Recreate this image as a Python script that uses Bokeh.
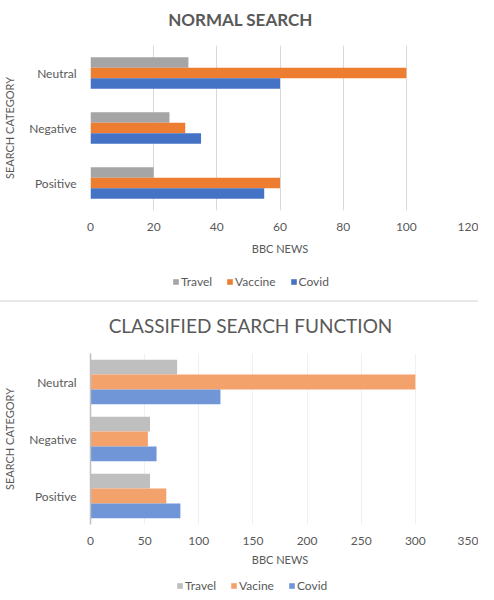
from bokeh.plotting import figure
from bokeh.models import FactorRange, Range1d, Legend, LegendItem, FixedTicker, Label
from bokeh.transform import dodge
from bokeh.layouts import column
from bokeh.embed import file_html
from bokeh.resources import INLINE

categories = ["Positive", "Negative", "Neutral"]
series_top = ["Travel", "Vaccine", "Covid"]
series_bottom = ["Travel", "Vacine", "Covid"]
normal_travel = [20, 25, 31]
normal_vaccine = [60, 30, 100]
normal_covid = [55, 35, 60]
classified_travel = [55, 55, 80]
classified_vacine = [70, 53, 300]
classified_covid = [83, 61, 120]
normal_ticks = [0, 20, 40, 60, 80, 100, 120]
classified_ticks = [0, 50, 100, 150, 200, 250, 300, 350]
colors_top = ["#A5A5A5", "#ED7D31", "#4472C4"]
colors_bottom = ["#BFBFBF", "#F4A26C", "#7196D8"]

FONT = "Lato"
TXT = "#595959"
W = 478


def blank(height):
    p = figure(width=W, height=height, output_backend="svg", toolbar_location=None,
               x_range=Range1d(0, 1), y_range=Range1d(0, 1),
               x_axis_type=None, y_axis_type=None,
               min_border=0, min_border_left=0, min_border_right=0,
               min_border_top=0, min_border_bottom=0)
    p.outline_line_color = None
    p.xgrid.visible = False
    p.ygrid.visible = False
    return p


def title_fig(text, height, cx, cy, size, style):
    p = blank(height)
    p.add_layout(Label(x=cx, y=cy, x_units="screen", y_units="screen", text=text,
                       text_align="center", text_baseline="middle",
                       text_font=FONT, text_font_size=size,
                       text_font_style=style, text_color=TXT))
    return p


def legend_fig(height, series, colors, lx, ly):
    p = blank(height)
    items = []
    for name, col in zip(series, colors):
        # legend-only renderer, kept outside the visible range
        r = p.hbar(y=[-10], right=[-10], left=-20, height=0.1, color=col,
                   line_color=None)
        items.append(LegendItem(label=name, renderers=[r]))
    legend = Legend(items=items, orientation="horizontal", location=(lx, ly),
                    glyph_width=7, glyph_height=7, label_standoff=2, spacing=14,
                    padding=0, margin=0, label_height=14,
                    border_line_color=None, background_fill_alpha=0,
                    label_text_font=FONT, label_text_font_size="12px",
                    label_text_color=TXT)
    p.add_layout(legend, "center")
    return p


def chart(series, values, colors, ticks, xmax, top, frame_h, bottom, left, right,
          bh, grid_color, axis_line, lab_standoff, title_gap):
    p = figure(width=W, height=top + frame_h + bottom, output_backend="svg",
               toolbar_location=None,
               y_range=FactorRange(factors=categories, range_padding=0),
               x_range=Range1d(0, xmax))
    p.min_border_top = top
    p.min_border_left = left
    p.min_border_right = right
    p.min_border_bottom = bottom
    p.outline_line_color = None
    p.ygrid.grid_line_color = None
    p.xgrid.grid_line_color = grid_color
    p.xaxis.ticker = FixedTicker(ticks=ticks)
    p.xaxis.axis_line_color = None
    p.xaxis.major_tick_line_color = None
    p.xaxis.minor_tick_line_color = None
    p.xaxis.major_label_standoff = lab_standoff
    p.xaxis.axis_label = "BBC NEWS"
    p.xaxis.axis_label_standoff = title_gap
    p.yaxis.axis_label = "SEARCH CATEGORY"
    p.yaxis.axis_label_standoff = 10
    p.yaxis.major_tick_line_color = None
    p.yaxis.minor_tick_line_color = None
    p.yaxis.major_label_standoff = 8
    if axis_line:
        p.yaxis.axis_line_color = axis_line
        p.yaxis.axis_line_width = 1.5
    else:
        p.yaxis.axis_line_color = None
    for ax in (p.xaxis, p.yaxis):
        ax.major_label_text_font = FONT
        ax.major_label_text_font_size = "12px"
        ax.major_label_text_color = TXT
        ax.axis_label_text_font = FONT
        ax.axis_label_text_font_size = "11px"
        ax.axis_label_text_font_style = "normal"
        ax.axis_label_text_color = TXT
    offsets = [bh, 0, -bh]
    for vals, col, off in zip(values, colors, offsets):
        p.hbar(y=dodge("cat", off, range=p.y_range), right="val", left=0,
               height=bh, color=col, line_color=None,
               source=dict(cat=categories, val=vals))
    return p


# frames of all stacked figures are aligned by the column layout
t1 = title_fig("NORMAL SEARCH", 40, 150, 21, "17px", "bold")
c1 = chart(series_top, [normal_travel, normal_vaccine, normal_covid], colors_top,
           normal_ticks, 120, 5, 165, 50, 81, 9, 0.19, "#D9D9D9", None, 6, 8)
l1 = legend_fig(42, series_top, colors_top, 82, 13)

t2 = title_fig("CLASSIFIED SEARCH FUNCTION", 38, 160, 15, "19px", "normal")
t2.styles = {"box-shadow": "0 -2px 0 0 #E8E8E8"}
c2 = chart(series_bottom, [classified_travel, classified_vacine, classified_covid],
           colors_bottom, classified_ticks, 350, 13, 171, 44, 82, 9, 0.26,
           "#F0F0F0", "#BFBFBF", 6, 5)
l2 = legend_fig(30, series_bottom, colors_bottom, 86, 5)

layout = column(t1, c1, l1, t2, c2, l2)
open("out.html", "w").write(file_html(layout, INLINE))
